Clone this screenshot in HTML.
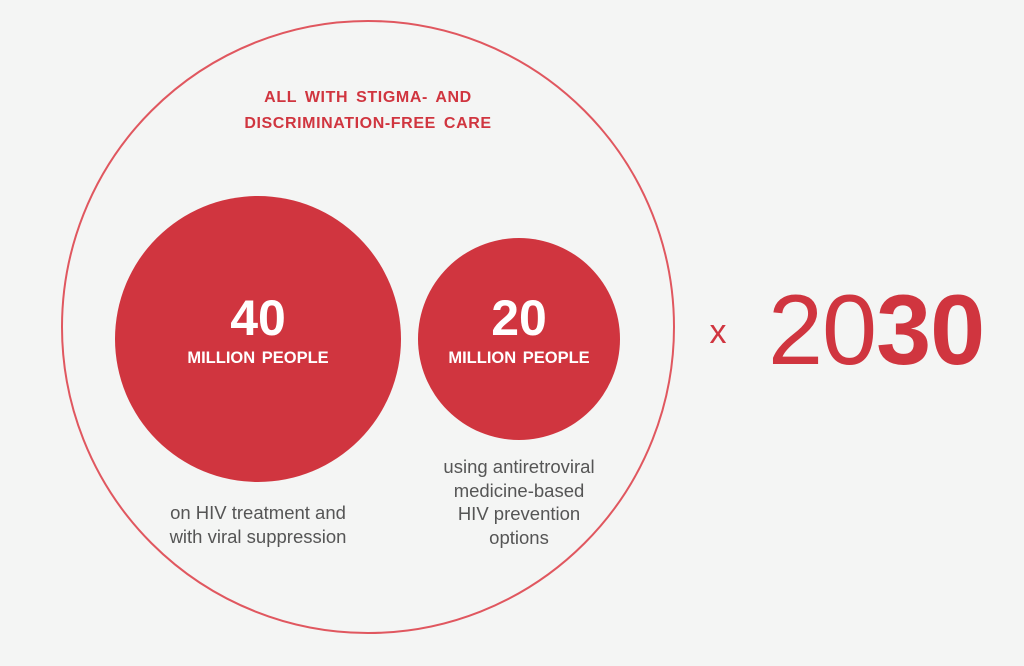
<!DOCTYPE html>
<html><head><style>
body{margin:0;width:1024px;height:666px;background:#f4f5f4;position:relative;overflow:hidden;font-family:"Liberation Sans",sans-serif}
.t{position:absolute;text-align:center;white-space:nowrap}
</style></head><body>
<svg width="1024" height="666" style="position:absolute;left:0;top:0">
<circle cx="368" cy="327" r="306" fill="none" stroke="#e0575f" stroke-width="2"/>
<circle cx="258" cy="339" r="143" fill="#d0353f"/>
<circle cx="519" cy="339" r="101" fill="#d0353f"/>
</svg>
<div class="t" style="left:168px;width:400px;top:85px;font-size:16px;font-weight:bold;color:#d0353f;line-height:26px;letter-spacing:0.6px;word-spacing:3px">ALL WITH STIGMA- AND<br>DISCRIMINATION-FREE CARE</div>
<div class="t" style="left:158px;width:200px;top:290px;font-size:50px;font-weight:bold;color:#fff;line-height:56px">40</div>
<div class="t" style="left:158px;width:200px;top:348px;font-size:16.5px;font-weight:bold;color:#fff;line-height:20px;word-spacing:2px">MILLION PEOPLE</div>
<div class="t" style="left:419px;width:200px;top:290px;font-size:50px;font-weight:bold;color:#fff;line-height:56px">20</div>
<div class="t" style="left:419px;width:200px;top:348px;font-size:16.5px;font-weight:bold;color:#fff;line-height:20px;word-spacing:2px">MILLION PEOPLE</div>
<div class="t" style="left:138px;width:240px;top:501px;font-size:18.5px;color:#555;line-height:24px">on HIV treatment and<br>with viral suppression</div>
<div class="t" style="left:399px;width:240px;top:455px;font-size:18.5px;color:#555;line-height:23.5px">using antiretroviral<br>medicine-based<br>HIV prevention<br>options</div>
<div class="t" style="left:700px;width:36px;top:312px;font-size:34px;color:#d0353f;line-height:40px">x</div>
<div class="t" style="left:768px;top:278px;font-size:99px;color:#d0353f;line-height:104px;text-align:left;letter-spacing:-1px">20<b>30</b></div>
</body></html>
